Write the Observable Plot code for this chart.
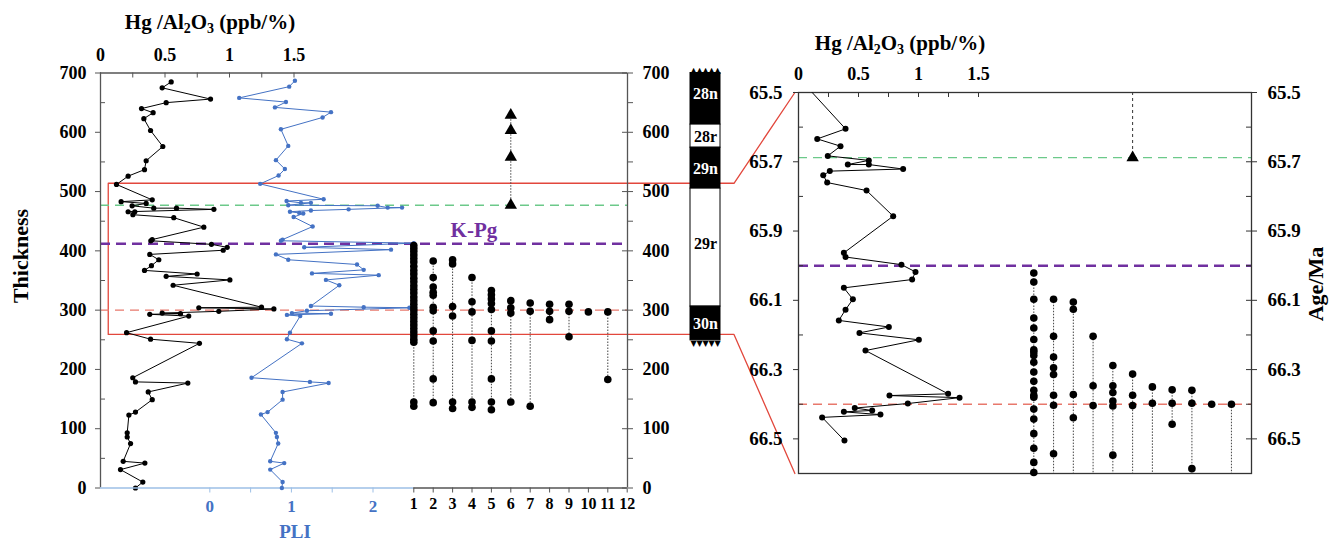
<!DOCTYPE html>
<html><head><meta charset="utf-8">
<script src="https://cdn.jsdelivr.net/npm/d3@7"></script>
<script src="https://cdn.jsdelivr.net/npm/@observablehq/plot@0.6"></script>
<style>
body{margin:0;background:#fff;}
#chart{position:relative;width:1334px;height:541px;overflow:hidden;font-family:'Liberation Serif','Times New Roman',serif;font-weight:bold;color:#000;}
#chart svg{position:absolute;left:0;top:0;background:transparent;max-width:none;}
.lbl{position:absolute;white-space:nowrap;font-size:21px;line-height:1;}
.lbl sub{font-size:14px;vertical-align:-4px;line-height:0;}
</style></head><body><div id="chart"></div>
<script>
// ---------------- DATA ----------------
// Left panel: thickness (m) vs Hg/Al2O3 (ppb/%)
const hgLeft = [[685,0.548],[675,0.478],[656,0.853],[650,0.509],[640,0.318],[633,0.408],[623,0.336],[603,0.388],[576,0.483],[552,0.354],[537,0.341],[526,0.214],[512,0.124],[486,0.401],[483,0.160],[480,0.354],[476,0.245],[472,0.413],[472,0.589],[470,0.879],[466,0.214],[466,0.266],[461,0.251],[456,0.568],[440,0.801],[419,0.401],[417,0.39],[411,0.860],[406,0.982],[401,0.951],[394,0.382],[385,0.452],[375,0.395],[367,0.341],[361,0.749],[357,0.509],[351,1.003],[342,0.563],[305,1.248],[304,0.762],[302,1.344],[298,0.917],[295,0.478],[294,0.620],[293,0.382],[290,0.684],[262,0.202],[251,0.388],[244,0.767],[186,0.250],[179,0.271],[177,0.677],[162,0.370],[149,0.401],[128,0.271],[123,0.220],[93,0.207],[86,0.207],[75,0.233],[45,0.176],[42,0.344],[31,0.155],[10,0.328],[0,0.271]];
// Left panel: thickness vs PLI
const pliLeft = [[687,1.043],[677,0.973],[658,0.360],[651,0.933],[642,0.798],[634,1.485],[625,1.382],[605,0.871],[577,0.961],[553,0.810],[538,0.920],[527,0.843],[513,0.617],[487,1.395],[484,0.941],[481,1.117],[481,1.239],[477,0.961],[476,2.057],[473,2.180],[473,2.356],[470,1.701],[468,1.239],[466,0.982],[464,1.096],[463,1.145],[457,1.027],[441,1.260],[419,0.892],[417,0.871],[413,2.5],[406,1.157],[402,2.221],[394,0.810],[385,0.961],[377,1.804],[368,1.886],[362,1.252],[359,2.070],[351,1.423],[342,1.587],[307,1.239],[305,1.886],[304,2.446],[299,1.190],[295,1.006],[294,1.485],[292,0.945],[290,1.108],[262,0.982],[251,0.945],[244,1.129],[186,0.511],[179,1.227],[177,1.456],[162,0.892],[149,0.892],[128,0.708],[124,0.626],[93,0.810],[86,0.822],[75,0.838],[45,0.740],[42,0.912],[31,0.740],[10,0.892],[0,0.883]];
// Left panel: species occurrences (thickness) for columns 1..11
const speciesLeft = [
  [409,404,399,393,387,381,374,367,361,354,348,341,335,329,322,316,310,304,299,293,287,281,275,269,263,257,251,246,145,138],
  [383,355,339,330,325,305,299,265,248,184,144],
  [385,378,306,290,145,134],
  [355,314,297,249,145,136],
  [333,326,319,311,301,265,248,184,145,132],
  [316,304,295,145],
  [312,298,138],
  [310,298,284],
  [310,298,255],
  [297],
  [297,183]
];
const triangleColumn = 6;
const trianglesLeft = [629,603,558,477];
// Right panel: age (Ma) vs Hg/Al2O3
const hgRight = [[65.5,0.114],[65.605,0.392],[65.634,0.156],[65.655,0.35],[65.683,0.244],[65.696,0.586],[65.708,0.411],[65.708,0.586],[65.721,0.872],[65.727,0.261],[65.739,0.206],[65.760,0.239],[65.783,0.567],[65.857,0.789],[65.963,0.378],[65.975,0.392],[65.997,0.858],[66.018,0.975],[66.040,0.947],[66.064,0.378],[66.097,0.453],[66.127,0.392],[66.158,0.336],[66.177,0.753],[66.194,0.508],[66.214,1.003],[66.245,0.558],[66.370,1.247],[66.375,0.758],[66.381,1.342],[66.398,0.911],[66.411,0.469],[66.418,0.614],[66.422,0.378],[66.430,0.683],[66.438,0.197],[66.505,0.383]];
// Right panel: species occurrences (age)
const speciesRight = [
  [66.021,66.047,66.097,66.151,66.180,66.213,66.243,66.249,66.259,66.279,66.307,66.334,66.360,66.374,66.380,66.414,66.443,66.485,66.527,66.568,66.597],
  [66.097,66.204,66.264,66.295,66.314,66.374,66.403,66.543],
  [66.105,66.126,66.372,66.439],
  [66.204,66.347,66.404],
  [66.288,66.347,66.366,66.391,66.405,66.547],
  [66.313,66.374,66.404],
  [66.350,66.397],
  [66.358,66.397,66.458],
  [66.360,66.397,66.586],
  [66.40],
  [66.40]
];
const triangleRight = [65.688];
// Event levels
const levelsLeft = {green: 477, kpg: 412, red: 300};
const levelsRight = {green: 65.688, kpg: 66.0, red: 66.40};
// Magnetostratigraphy
const magChrons = ["28n","28r","29n","29r","30n"];
const magTop = [700,613,574,505,306];
const magBottom = [613,574,505,306,249];
const magNormal = [true,false,true,false,true];
const magLabelAt = [665,593,539,412,276];
const magTeeth = [0.1,0.3,0.5,0.7,0.9];
// Zoom box (left thickness interval shown in the right panel)
const zoomBox = {top: 514, bottom: 259, hgLeft: 0.06, magRight: 1.45, hgRightConnect: -0.03};
// Axes
const thicknessTicks = [0,100,200,300,400,500,600,700];
const thicknessMinor = [50,150,250,350,450,550,650];
const hgTicks = [0,0.5,1,1.5];
const hgTickMarks = [0,0.25,0.5,0.75,1,1.25,1.5];
const pliTicks = [0,0.5,1,1.5,2];
const pliDomain = [-1.34,2.5];
const speciesTicks = [1,2,3,4,5,6,7,8,9,10,11,12];
const ageDomain = [65.5,66.6];
const ageTicks = [65.5,65.7,65.9,66.1,66.3,66.5];
const ageMinor = [65.6,65.8,66.0,66.2,66.4];
const hgLeftDomain = [0,4.085];
const hgRightDomain = [0,3.775];
const kpgLabel = {text: "K-Pg", species: 4.1};

// ---------------- STYLE ----------------
const W = 1334, H = 541;
const FONT = "'Liberation Serif','Times New Roman',serif";
const AX = "#555", AXR = "#333";
const BLUE = "#4472c4", BLUE_AX = "#9dbfe6";
const GREEN = "#6cc98a", PURPLE = "#7030a0", REDD = "#e8786c", REDBOX = "#e2473c";
const plain = d => String(d);
const chart = document.getElementById("chart");
function mk(opts){
  const svg = Plot.plot({width: W, height: H,
    style: {background: "transparent", overflow: "visible", fontFamily: FONT, fontWeight: "bold", fontSize: "17px"},
    ...opts});
  chart.appendChild(svg);
  return svg;
}
const LM = {marginLeft: 100, marginRight: W - 627, marginTop: 72.5, marginBottom: H - 487.5};
const LW = 627 - 100, LH = 487.5 - 72.5;
const RM = {marginLeft: 798, marginRight: W - 1251, marginTop: 92, marginBottom: H - 473};
const RW = 1251 - 798, RH = 473 - 92;
const X = d => d[1], Y = d => d[0];

// Left Hg
const leftHg = mk({...LM,
  x: {domain: hgLeftDomain, axis: null}, y: {domain: [0,700], axis: null},
  marks: [
    Plot.ruleY([levelsLeft.green], {stroke: GREEN, strokeDasharray: "9,6", strokeWidth: 1.4}),
    Plot.ruleY([levelsLeft.kpg], {stroke: PURPLE, strokeDasharray: "10,6", strokeWidth: 2.6}),
    Plot.ruleY([levelsLeft.red], {stroke: REDD, strokeDasharray: "9,6", strokeWidth: 1.4}),
    Plot.ruleX(hgLeftDomain, {stroke: AX, strokeWidth: 1.3}),
    Plot.ruleY([700], {stroke: AX, strokeWidth: 1.3}),
    Plot.line(hgLeft, {x: X, y: Y, stroke: "black", strokeWidth: 1}),
    Plot.dot(hgLeft, {x: X, y: Y, r: 2.6, fill: "black"}),
    Plot.axisX(hgTicks, {anchor: "top", tickSize: 0, tickPadding: 12, fontSize: 18, label: null, tickFormat: plain}),
    Plot.tickX(hgTickMarks, {x: d => d, insetBottom: LH - 5, stroke: AX}),
    Plot.axisY(thicknessTicks, {anchor: "left", tickSize: 5, tickPadding: 9, fontSize: 18, label: null, stroke: AX, tickFormat: plain}),
    Plot.tickY(thicknessMinor, {y: d => d, insetRight: LW - 5, stroke: AX}),
    Plot.axisY(thicknessTicks, {anchor: "right", tickSize: 5, tickPadding: 10, fontSize: 18, label: null, stroke: AX, tickFormat: plain}),
    Plot.tickY(thicknessTicks, {y: d => d, insetLeft: LW - 5, stroke: AX}),
    Plot.axisY(thicknessMinor, {anchor: "right", tickSize: 5, tickFormat: () => "", label: null, stroke: AX})
  ]});

// Left PLI
const leftPli = mk({marginLeft: 100, marginRight: W - 413.3, marginTop: LM.marginTop, marginBottom: LM.marginBottom,
  x: {domain: pliDomain, axis: null}, y: {domain: [0,700], axis: null},
  marks: [
    Plot.ruleY([0], {stroke: BLUE_AX, strokeWidth: 1.6}),
    Plot.line(pliLeft, {x: X, y: Y, stroke: BLUE, strokeWidth: 1}),
    Plot.dot(pliLeft, {x: X, y: Y, r: 2.2, fill: BLUE}),
    Plot.axisX(pliTicks, {anchor: "bottom", tickSize: 5, tickPadding: 7, fontSize: 17, label: null,
      stroke: BLUE_AX, fill: BLUE, tickFormat: d => Number.isInteger(d) ? String(d) : ""})
  ]});

// Left species range chart
const leftDots = speciesLeft.flatMap((arr, i) => arr.map(t => ({col: i + 1, t})));
const leftRanges = speciesLeft.map((arr, i) => ({col: i + 1, lo: d3.min(arr), hi: d3.max(arr)}));
const leftSp = mk({marginLeft: 413.3, marginRight: W - 626.7, marginTop: LM.marginTop, marginBottom: LM.marginBottom,
  x: {domain: [1,12], axis: null}, y: {domain: [0,700], axis: null},
  marks: [
    Plot.ruleY([0], {stroke: AX, strokeWidth: 1.3}),
    Plot.axisX(speciesTicks, {anchor: "bottom", tickSize: 5, tickPadding: 5, fontSize: 16, label: null, stroke: AX, tickFormat: plain}),
    Plot.ruleX(leftRanges, {x: "col", y1: "lo", y2: "hi", stroke: "#444", strokeWidth: 1, strokeDasharray: "1.5,1.5"}),
    Plot.dot(leftDots, {x: "col", y: "t", r: 3.8, fill: "black"}),
    Plot.ruleX([triangleColumn], {y1: d3.min(trianglesLeft), y2: d3.max(trianglesLeft), stroke: "#444", strokeDasharray: "1.5,1.5"}),
    Plot.dot(trianglesLeft, {x: triangleColumn, y: d => d, symbol: "triangle", r: 4.6, fill: "black"}),
    Plot.text([kpgLabel.text], {x: kpgLabel.species, y: levelsLeft.kpg, dy: -13, fill: PURPLE, fontSize: 21})
  ]});

// Magnetostratigraphic column
const chronIdx = magChrons.map((_, i) => i);
const mag = mk({marginLeft: 690, marginRight: W - 720, marginTop: LM.marginTop, marginBottom: LM.marginBottom,
  x: {domain: [0,1], axis: null}, y: {domain: [0,700], axis: null}, color: {type: "identity"},
  marks: [
    Plot.rect(chronIdx, {x1: 0, x2: 1, y1: i => magBottom[i], y2: i => magTop[i], fill: i => magNormal[i] ? "black" : "white", stroke: "black", strokeWidth: 1}),
    Plot.text(chronIdx, {x: 0.5, y: i => magLabelAt[i], text: i => magChrons[i], fill: i => magNormal[i] ? "white" : "black", fontSize: 16}),
    Plot.text(magTeeth, {x: d => d, y: d3.max(magTop), text: () => "\u25B2", fontSize: 8, dy: -3, fill: "black", fontFamily: "DejaVu Sans"}),
    Plot.text(magTeeth, {x: d => d, y: d3.min(magBottom), text: () => "\u25BC", fontSize: 8, dy: 3, fill: "black", fontFamily: "DejaVu Sans"})
  ]});

// Right panel Hg
const right = mk({...RM,
  x: {domain: hgRightDomain, axis: null}, y: {domain: [ageDomain[1], ageDomain[0]], axis: null},
  marks: [
    Plot.ruleY([levelsRight.green], {stroke: GREEN, strokeDasharray: "9,6", strokeWidth: 1.4}),
    Plot.ruleY([levelsRight.kpg], {stroke: PURPLE, strokeDasharray: "10,6", strokeWidth: 2.6}),
    Plot.ruleY([levelsRight.red], {stroke: REDD, strokeDasharray: "9,6", strokeWidth: 1.4}),
    Plot.frame({stroke: AXR, strokeWidth: 1.3}),
    Plot.line(hgRight, {x: X, y: Y, stroke: "black", strokeWidth: 1}),
    Plot.dot(hgRight.slice(1), {x: X, y: Y, r: 3, fill: "black"}),
    Plot.axisX(hgTicks, {anchor: "top", tickSize: 0, tickPadding: 13, fontSize: 18, label: null, tickFormat: plain}),
    Plot.tickX(hgTickMarks, {x: d => d, insetBottom: RH - 5, stroke: AXR}),
    Plot.axisY(ageTicks, {anchor: "left", tickSize: 5, tickPadding: 11, fontSize: 19, label: null, stroke: AXR, tickFormat: d => d.toFixed(1)}),
    Plot.tickY(ageMinor, {y: d => d, insetRight: RW - 5, stroke: AXR}),
    Plot.axisY(ageTicks, {anchor: "right", tickSize: 5, tickPadding: 11, fontSize: 19, label: null, stroke: AXR, tickFormat: d => d.toFixed(1)}),
    Plot.tickY([...ageTicks, ...ageMinor], {y: d => d, insetLeft: RW - 5, stroke: AXR})
  ]});

// Right species range chart
const rightDots = speciesRight.flatMap((arr, i) => arr.map(a => ({col: i + 1, a})));
const rightRanges = speciesRight.map((arr, i) => ({col: i + 1, top: d3.min(arr),
  bottom: d3.min(speciesLeft[i]) < zoomBox.bottom ? ageDomain[1] : d3.max(arr)}));
const rightSp = mk({marginLeft: 1033.3, marginRight: W - 1250.7, marginTop: RM.marginTop, marginBottom: RM.marginBottom,
  x: {domain: [1,12], axis: null}, y: {domain: [ageDomain[1], ageDomain[0]], axis: null},
  marks: [
    Plot.ruleX(rightRanges, {x: "col", y1: "top", y2: "bottom", stroke: "#444", strokeDasharray: "1.5,1.5"}),
    Plot.dot(rightDots, {x: "col", y: "a", r: 3.8, fill: "black"}),
    Plot.ruleX([triangleColumn], {y1: ageDomain[0], y2: triangleRight[0], stroke: "#333", strokeDasharray: "3,3"}),
    Plot.dot(triangleRight, {x: triangleColumn, y: d => d, symbol: "triangle", r: 4.6, fill: "black"})
  ]});

// Connector (zoom box) computed from the panels' scales
const yL = leftHg.scale("y"), xL = leftHg.scale("x"), xM = mag.scale("x");
const yR = right.scale("y"), xR = right.scale("x");
const xBox = xL.apply(zoomBox.hgLeft), xKink = xM.apply(zoomBox.magRight), xEnd = xR.apply(zoomBox.hgRightConnect);
const yT = yL.apply(zoomBox.top), yB = yL.apply(zoomBox.bottom);
const yRT = yR.apply(ageDomain[0]), yRB = yR.apply(ageDomain[1]);
const connPts = [[xEnd, yRT],[xKink, yT],[xBox, yT],[xBox, yB],[xKink, yB],[xEnd, yRB]];
const conn = Plot.plot({width: W, height: H, margin: 0,
  style: {background: "transparent", overflow: "visible"},
  x: {domain: [0, W], range: [0, W], axis: null}, y: {domain: [0, H], range: [0, H], axis: null},
  marks: [Plot.line(connPts, {x: d => d[0], y: d => d[1], stroke: REDBOX, strokeWidth: 1.3})]});
chart.insertBefore(conn, chart.firstChild);

// Titles (HTML text)
function label(html, cx, cy, rot, color, size){
  const d = document.createElement("div");
  d.className = "lbl"; d.innerHTML = html;
  d.style.left = cx + "px"; d.style.top = cy + "px";
  d.style.transform = `translate(-50%,-50%)` + (rot ? ` rotate(${rot}deg)` : "");
  if (color) d.style.color = color;
  if (size) d.style.fontSize = size + "px";
  chart.appendChild(d);
}
label("Hg /Al<sub>2</sub>O<sub>3</sub> (ppb/%)", 210, 22);
label("Hg /Al<sub>2</sub>O<sub>3</sub> (ppb/%)", 900, 43);
label("Thickness", 21, 256, -90, null, 22);
label("Age/Ma", 1316, 284, -90, null, 22);
label("PLI", 295, 531, 0, BLUE, 19);
</script></body></html>
